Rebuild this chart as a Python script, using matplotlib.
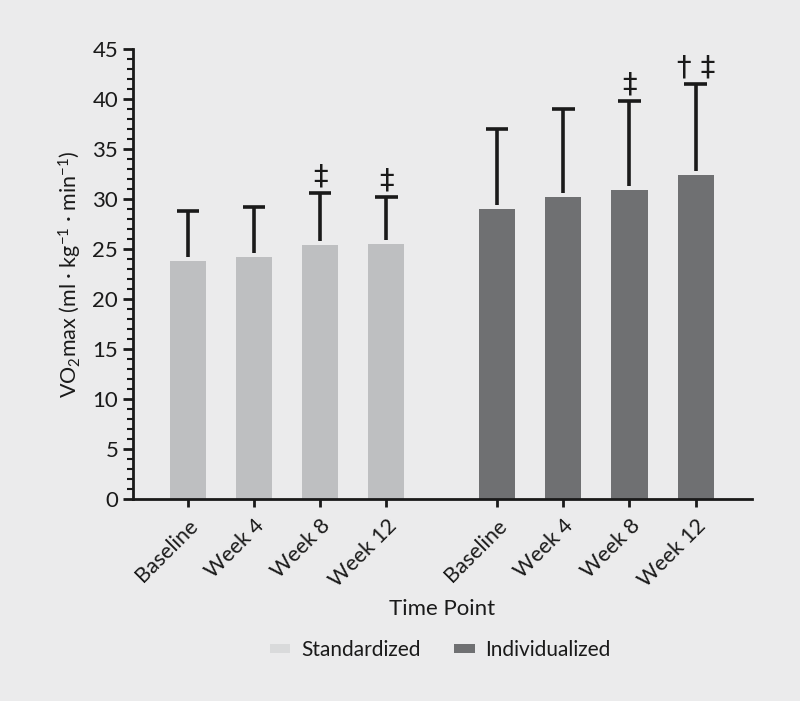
import matplotlib
matplotlib.use("Agg")
import matplotlib.pyplot as plt
from matplotlib.patches import Patch
from matplotlib.ticker import MultipleLocator
import numpy as np

plt.rcParams["font.family"] = ["Lato", "DejaVu Sans"]
plt.rcParams["mathtext.default"] = "regular"

time_points = ["Baseline", "Week 4", "Week 8", "Week 12"]
groups = ["Standardized", "Individualized"]
std_mean = [23.8, 24.2, 25.4, 25.5]
std_upper = [28.8, 29.2, 30.6, 30.2]
ind_mean = [29.0, 30.2, 30.9, 32.4]
ind_upper = [37.0, 39.0, 39.8, 41.5]
std_marks = ["", "", "‡", "‡"]
ind_marks = ["", "", "‡", "† ‡"]

bg = "#ebebec"
bar_colors = ["#bebfc1", "#6f7072"]
legend_colors = ["#d9dadb", "#6f7072"]
ink = "#1a1a1a"

fig = plt.figure(figsize=(8, 7.01), dpi=100, facecolor=bg)
ax = fig.add_axes([0.166, 0.288, 0.774, 0.642], facecolor=bg)

x_std = np.arange(4)
x_ind = np.arange(4) + 4.67
width = 0.545

for xs, means, uppers, marks, col in [
    (x_std, std_mean, std_upper, std_marks, bar_colors[0]),
    (x_ind, ind_mean, ind_upper, ind_marks, bar_colors[1]),
]:
    ax.bar(xs, means, width=width, color=col, edgecolor="none", zorder=2)
    ax.vlines(xs, np.array(means) + 0.4, uppers, color=ink, lw=2.6, zorder=3)
    ax.hlines(uppers, xs - 0.17, xs + 0.17, color=ink, lw=2.6, zorder=3)
    for x, u, m in zip(xs, uppers, marks):
        if m:
            ax.text(x, u + 0.3, m, ha="center", va="bottom", fontsize=21,
                    color=ink, family=["DejaVu Sans"])

ax.set_xlim(-0.83, 8.52)
ax.set_ylim(0, 45)
ax.yaxis.set_major_locator(MultipleLocator(5))
ax.yaxis.set_minor_locator(MultipleLocator(1))
ax.set_xticks(np.concatenate([x_std, x_ind]))
ax.set_xticklabels(time_points * 2, rotation=45, ha="right", rotation_mode="anchor",
                   fontsize=15.5)
ax.tick_params(axis="y", labelsize=16, width=2, length=7, color=ink, labelcolor=ink)
ax.tick_params(axis="y", which="minor", width=1.5, length=4, color=ink)
ax.tick_params(axis="x", width=2, length=6, color=ink, pad=6, labelcolor=ink)

for s in ["top", "right"]:
    ax.spines[s].set_visible(False)
for s in ["left", "bottom"]:
    ax.spines[s].set_linewidth(2)
    ax.spines[s].set_color(ink)

ax.set_ylabel(r"VO$_2$max (ml · kg$^{-1}$ · min$^{-1}$)", fontsize=15.5, labelpad=6,
              color=ink)
ax.set_xlabel("Time Point", fontsize=16, labelpad=6, color=ink)

handles = [Patch(facecolor=c, edgecolor="none") for c in legend_colors]
fig.legend(handles, groups, loc="center", bbox_to_anchor=(0.55, 0.073), ncol=2,
           frameon=False, fontsize=15, handlelength=1.0, handleheight=0.3,
           columnspacing=1.6, handletextpad=0.5, labelcolor=ink)

fig.savefig("out.png", dpi=100, facecolor=bg)
